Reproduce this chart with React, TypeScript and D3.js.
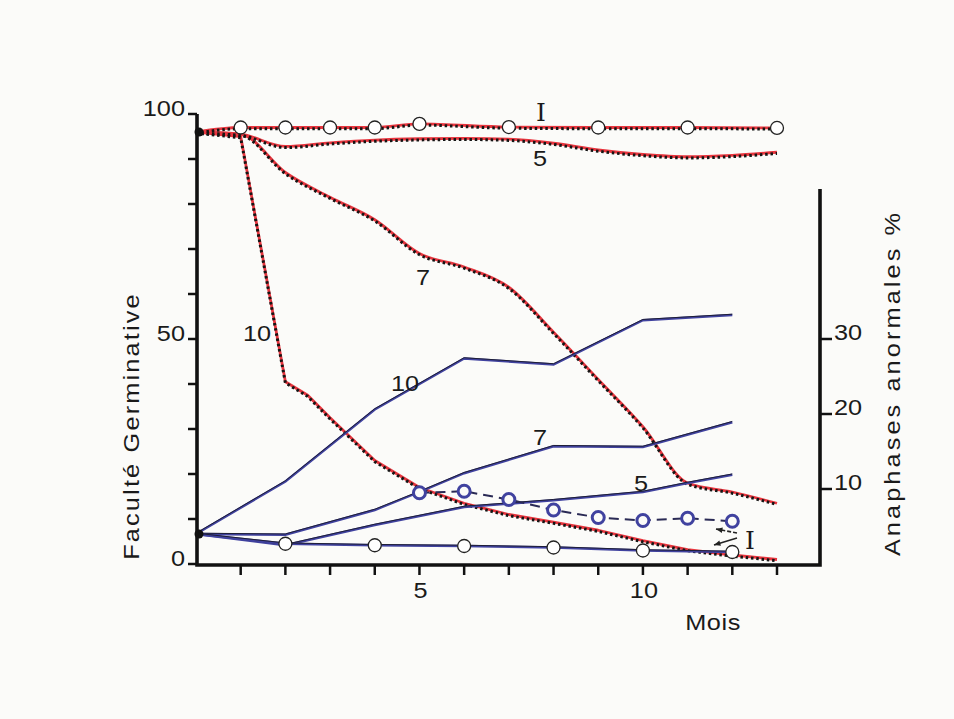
import React, { useEffect, useRef } from "react";
import * as d3 from "d3";

// Faculté germinative (%), left axis
const redIMonths = [0, 1, 2, 3, 4, 5, 7, 9, 11, 13];
const redIValues = [96, 97, 97, 97, 97, 97.8, 97.1, 97, 97, 96.9];
const redIMarks = [1, 2, 3, 4, 5, 7, 9, 11, 13];

const red5Months = [0, 1, 2, 3, 4, 5, 6, 7, 8, 9, 10, 11, 12, 13];
const red5Values = [96, 95.5, 92.8, 93.6, 94.2, 94.5, 94.6, 94.4, 93.5, 92, 91, 90.5, 90.8, 91.5];

const red7Months = [0, 1, 2, 3, 4, 5, 6, 7, 8, 9, 10, 11, 12, 13];
const red7Values = [96, 95.5, 87, 81.5, 76.5, 69, 66, 61.5, 51.5, 41, 30.5, 18, 16, 13.5];

const red10Months = [0, 1, 2, 2.5, 3, 4, 5, 6, 7, 8, 9, 10, 11, 12, 13];
const red10Values = [96, 95, 40.5, 37.5, 32.5, 23, 17, 13.5, 11, 9.3, 7.5, 5.2, 3.2, 2, 1];

// Anaphases anormales (%), right axis
const blue10Months = [0, 2, 4, 6, 8, 10, 12];
const blue10Values = [4, 11, 20.6, 27.4, 26.6, 32.5, 33.2];

const blue7Months = [0, 2, 4, 5, 6, 8, 10, 12];
const blue7Values = [4, 3.9, 7.2, 9.6, 12.1, 15.7, 15.6, 18.9];

const blue5Months = [0, 2, 4, 6, 8, 10, 11, 12];
const blue5Values = [4, 2.5, 5.2, 7.6, 8.5, 9.6, 10.8, 11.9];

const blueIMonths = [0, 2, 4, 6, 8, 10, 12];
const blueIValues = [4, 2.7, 2.5, 2.4, 2.2, 1.8, 1.6];

const dashedMonths = [5, 6, 7, 8, 9, 10, 11, 12];
const dashedValues = [9.5, 9.7, 8.6, 7.2, 6.2, 5.8, 6.1, 5.7];

const leftTicks = [0, 10, 20, 30, 40, 50, 60, 70, 80, 90, 100];
const leftLabels = [0, 50, 100];
const rightTicks = [10, 20, 30];
const monthTicks = [1, 2, 3, 4, 5, 6, 7, 8, 9, 10, 11, 12, 13];
const monthLabels = [5, 10];

const RED = "#e8363f";
const BLUE = "#40429f";
const BG = "#fbfbf9";
const FONT = "'Liberation Sans', Arial, sans-serif";
const STRETCH = 1.15; // lettering in the scan is wider than Helvetica

const App = () => {
  const ref = useRef<SVGSVGElement>(null);

  useEffect(() => {
    const svg = d3.select(ref.current);
    svg.selectAll("*").remove();

    const x = d3.scaleLinear().domain([0, 13]).range([196, 777]);
    const yL = d3.scaleLinear().domain([0, 100]).range([564, 114]);
    const yR = d3.scaleLinear().domain([0, 50]).range([564, 189]);
    const xRight = 820;

    svg.append("rect").attr("width", 954).attr("height", 719).attr("fill", BG);

    const zip = (ms: number[], vs: number[]) => ms.map((m, i) => [m, vs[i]] as [number, number]);

    const lineL = d3
      .line<[number, number]>()
      .x((d) => x(d[0]))
      .y((d) => yL(d[1]))
      .curve(d3.curveMonotoneX);
    const lineLStraight = d3
      .line<[number, number]>()
      .x((d) => x(d[0]))
      .y((d) => yL(d[1]));
    const lineR = d3
      .line<[number, number]>()
      .x((d) => x(d[0]))
      .y((d) => yR(d[1]));

    // red curves with black dotted overlay
    const reds: [[number, number][], typeof lineL][] = [
      [zip(red10Months, red10Values), lineLStraight],
      [zip(red7Months, red7Values), lineL],
      [zip(red5Months, red5Values), lineL],
      [zip(redIMonths, redIValues), lineL],
    ];
    reds.forEach(([pts, gen]) => {
      svg.append("path").attr("d", gen(pts)).attr("fill", "none")
        .attr("stroke", RED).attr("stroke-width", 2.8).attr("stroke-linejoin", "round");
      svg.append("path").attr("d", gen(pts)).attr("fill", "none")
        .attr("transform", "translate(0,1.2)")
        .attr("stroke", "#151515").attr("stroke-width", 3)
        .attr("stroke-dasharray", "2.5,2.8");
    });

    // blue curves with thin black line
    const blues = [
      zip(blue10Months, blue10Values),
      zip(blue7Months, blue7Values),
      zip(blue5Months, blue5Values),
      zip(blueIMonths, blueIValues),
    ];
    blues.forEach((pts) => {
      svg.append("path").attr("d", lineR(pts)).attr("fill", "none")
        .attr("stroke", BLUE).attr("stroke-width", 2.4);
      svg.append("path").attr("d", lineR(pts)).attr("fill", "none")
        .attr("transform", "translate(0,-0.8)")
        .attr("stroke", "#1a1a2a").attr("stroke-width", 0.9);
    });

    // dashed series with blue circles
    const dashed = zip(dashedMonths, dashedValues);
    svg.append("path").attr("d", lineR(dashed)).attr("fill", "none")
      .attr("stroke", "#2a2a55").attr("stroke-width", 2)
      .attr("stroke-dasharray", "10,6");
    svg.selectAll(".dc").data(dashed).join("circle")
      .attr("cx", (d) => x(d[0])).attr("cy", (d) => yR(d[1])).attr("r", 6)
      .attr("fill", BG).attr("stroke", BLUE).attr("stroke-width", 3);

    // open circles
    const redI = zip(redIMonths, redIValues).filter((d) => redIMarks.includes(d[0]));
    svg.selectAll(".rc").data(redI).join("circle")
      .attr("cx", (d) => x(d[0])).attr("cy", (d) => yL(d[1])).attr("r", 6.5)
      .attr("fill", "#fff").attr("stroke", "#222").attr("stroke-width", 1.3);
    const blueI = zip(blueIMonths, blueIValues).slice(1);
    svg.selectAll(".bc").data(blueI).join("circle")
      .attr("cx", (d) => x(d[0])).attr("cy", (d) => yR(d[1])).attr("r", 6.5)
      .attr("fill", "#fff").attr("stroke", "#222").attr("stroke-width", 1.3);

    // start points
    svg.append("circle").attr("cx", x(0) + 3).attr("cy", yL(96)).attr("r", 4.5).attr("fill", "#111");
    svg.append("circle").attr("cx", x(0) + 3).attr("cy", yR(4)).attr("r", 4.5).attr("fill", "#111");

    // axes
    const ax = svg.append("g").attr("stroke", "#111").attr("fill", "none");
    ax.append("path")
      .attr("d", `M${x(0) + 1},${yL(100)}V${yL(0) + 1}H${xRight}V${yR(50)}`)
      .attr("stroke-width", 3.6);
    leftTicks.forEach((t) => {
      ax.append("line").attr("x1", x(0) - 8).attr("x2", x(0) + 1)
        .attr("y1", yL(t)).attr("y2", yL(t)).attr("stroke-width", 2.5);
    });
    monthTicks.forEach((m) => {
      ax.append("line").attr("x1", x(m)).attr("x2", x(m))
        .attr("y1", yL(0)).attr("y2", yL(0) + 11).attr("stroke-width", 2.5);
    });
    rightTicks.forEach((t) => {
      ax.append("line").attr("x1", xRight).attr("x2", xRight + 12)
        .attr("y1", yR(t)).attr("y2", yR(t)).attr("stroke-width", 2.5);
    });

    const txt = svg.append("g").attr("font-family", FONT).attr("fill", "#1a1a1a").attr("font-size", 22);
    const put = (t: string | number, px: number, py: number, anchor = "start", rot = 0, spacing = 0) =>
      txt.append("text")
        .attr("transform", `translate(${px},${py}) rotate(${rot}) scale(${STRETCH},1)`)
        .attr("text-anchor", anchor)
        .attr("letter-spacing", spacing)
        .text(t);

    leftLabels.forEach((v) => put(v, 185, yL(v) + 2, "end"));
    rightTicks.forEach((v) => put(v, 834, yR(v) + 1));
    monthLabels.forEach((m) => put(m, x(m) + 1, 598, "middle"));
    put("Mois", 713, 630, "middle", 0, 0.5);
    put("Faculté Germinative", 139, 426, "middle", -90, 1.9);
    put("Anaphases  anormales  %", 900, 383, "middle", -90, 2.7);

    // curve labels
    put("5", 540, 166, "middle");
    put("7", 423, 285, "middle");
    put("10", 257, 341, "middle");
    put("10", 405, 391, "middle");
    put("7", 540, 445, "middle");
    put("5", 641, 491, "middle");
    const roman = (px: number, py: number) =>
      txt.append("text").attr("x", px).attr("y", py).attr("text-anchor", "middle")
        .attr("font-family", "'DejaVu Serif', serif").attr("font-size", 25).text("I");
    roman(541, 121);
    roman(750, 549);

    // arrows beside the lower I
    const arr = svg.append("g").attr("stroke", "#222").attr("stroke-width", 1.6).attr("fill", "#222");
    const arrows = [
      [737, 533, 716, 529, 1],
      [737, 538, 714, 545, 0],
    ];
    arrows.forEach(([x1, y1, x2, y2, dash]) => {
      arr.append("line").attr("x1", x1).attr("y1", y1).attr("x2", x2).attr("y2", y2)
        .attr("stroke-dasharray", dash ? "4,2" : null);
      const a = Math.atan2(y2 - y1, x2 - x1);
      const h = 7;
      arr.append("path").attr("stroke", "none").attr("d",
        `M${x2},${y2}L${x2 - h * Math.cos(a - 0.4)},${y2 - h * Math.sin(a - 0.4)}L${x2 - h * Math.cos(a + 0.4)},${y2 - h * Math.sin(a + 0.4)}Z`);
    });
  }, []);

  return (
    <svg
      ref={ref}
      width={954}
      height={719}
      style={{ position: "absolute", left: 0, top: 0 }}
    />
  );
};

export default App;
